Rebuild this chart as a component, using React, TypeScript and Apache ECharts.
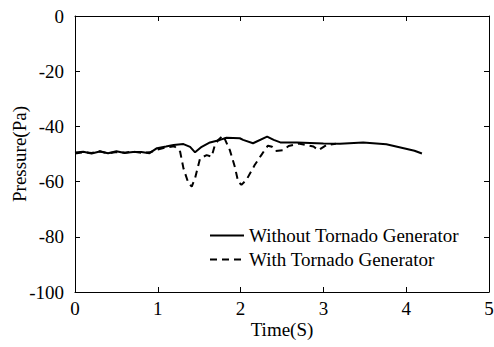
import React, { useEffect, useRef } from "react";
import * as echarts from "echarts";

const seriesNames = ["Without Tornado Generator", "With Tornado Generator"];

const withoutT = [0, 0.1, 0.2, 0.3, 0.4, 0.5, 0.6, 0.7, 0.8, 0.9, 0.99, 1.1, 1.19, 1.31, 1.39, 1.45, 1.53, 1.63, 1.75, 1.83, 1.99, 2.03, 2.15, 2.32, 2.4, 2.48, 2.68, 3.0, 3.2, 3.48, 3.76, 3.97, 4.1, 4.19];
const withoutV = [-49.5, -49.2, -49.8, -49.1, -49.7, -49.0, -49.6, -49.3, -49.3, -49.7, -47.9, -47.3, -46.7, -46.4, -47.4, -49.4, -47.4, -45.8, -44.9, -44.1, -44.3, -44.9, -46.1, -43.7, -44.9, -45.8, -45.8, -46.2, -46.3, -45.8, -46.5, -47.9, -48.8, -49.8];

const withT = [0, 0.1, 0.2, 0.3, 0.4, 0.5, 0.6, 0.7, 0.8, 0.9, 1.0, 1.1, 1.2, 1.27, 1.31, 1.37, 1.41, 1.45, 1.51, 1.59, 1.65, 1.69, 1.73, 1.79, 1.87, 1.93, 1.97, 2.01, 2.07, 2.17, 2.25, 2.29, 2.33, 2.38, 2.42, 2.52, 2.58, 2.7, 2.88, 2.94, 3.04, 3.15];
const withV = [-49.8, -49.4, -49.6, -49.0, -49.8, -49.3, -49.5, -49.1, -49.6, -49.4, -48.4, -47.6, -47.2, -49.2, -55.2, -60.6, -61.8, -58.8, -51.6, -50.4, -51.0, -46.7, -44.9, -43.3, -48.6, -54.6, -60.0, -61.2, -59.4, -54.0, -50.4, -48.6, -47.0, -47.4, -48.9, -48.6, -47.1, -46.2, -47.3, -48.6, -46.7, -46.3];

const FONT = "Liberation Serif";

export default function App() {
  const ref = useRef<HTMLDivElement>(null);
  useEffect(() => {
    if (!ref.current) return;
    const chart = echarts.init(ref.current, undefined, { renderer: "svg" });
    const axisLine = { show: true, onZero: false, lineStyle: { color: "#000", width: 1 } };
    const tick = { show: true, inside: true, length: 5, lineStyle: { color: "#000" } };
    const label = { color: "#000", fontFamily: FONT, fontSize: 19 };
    chart.setOption({
      animation: false,
      backgroundColor: "#fff",
      textStyle: { fontFamily: FONT, color: "#000" },
      grid: {
        left: 75,
        top: 16,
        right: 5,
        bottom: 55,
        containLabel: false,
        outerBoundsMode: "none",
      },
      legend: {
        orient: "vertical",
        left: 209,
        top: 226,
        padding: 0,
        itemGap: 5,
        itemWidth: 34,
        itemHeight: 14,
        itemStyle: { opacity: 0 },
        textStyle: { color: "#000", fontFamily: FONT, fontSize: 19 },
        data: seriesNames,
      },
      xAxis: [
        {
          type: "value",
          position: "bottom",
          min: 0,
          max: 5,
          interval: 1,
          name: "Time(S)",
          nameLocation: "middle",
          nameGap: 28,
          nameMoveOverlap: false,
          nameTextStyle: { color: "#000", fontFamily: FONT, fontSize: 19 },
          axisLine,
          axisTick: tick,
          axisLabel: { ...label, margin: 7 },
          splitLine: { show: false },
        },
        {
          type: "value",
          position: "top",
          min: 0,
          max: 5,
          interval: 1,
          axisLine,
          axisTick: tick,
          axisLabel: { show: false },
          splitLine: { show: false },
        },
      ],
      yAxis: [
        {
          type: "value",
          position: "left",
          min: -100,
          max: 0,
          interval: 20,
          name: "Pressure(Pa)",
          nameLocation: "middle",
          nameGap: 46,
          nameMoveOverlap: false,
          nameTextStyle: { color: "#000", fontFamily: FONT, fontSize: 19 },
          axisLine,
          axisTick: tick,
          axisLabel: { ...label, margin: 11 },
          splitLine: { show: false },
        },
        {
          type: "value",
          position: "right",
          min: -100,
          max: 0,
          interval: 20,
          axisLine,
          axisTick: tick,
          axisLabel: { show: false },
          splitLine: { show: false },
        },
      ],
      series: [
        {
          name: seriesNames[0],
          type: "line",
          symbol: "none",
          data: withoutT.map((t, i) => [t, withoutV[i]]),
          lineStyle: { color: "#000", width: 2 },
          itemStyle: { color: "#000" },
        },
        {
          name: seriesNames[1],
          type: "line",
          symbol: "none",
          data: withT.map((t, i) => [t, withV[i]]),
          lineStyle: { color: "#000", width: 2, type: [7, 5] },
          itemStyle: { color: "#000" },
        },
      ],
    });
    return () => chart.dispose();
  }, []);
  return (
    <div
      ref={ref}
      style={{ position: "fixed", left: 0, top: 0, width: 494, height: 347 }}
    />
  );
}
